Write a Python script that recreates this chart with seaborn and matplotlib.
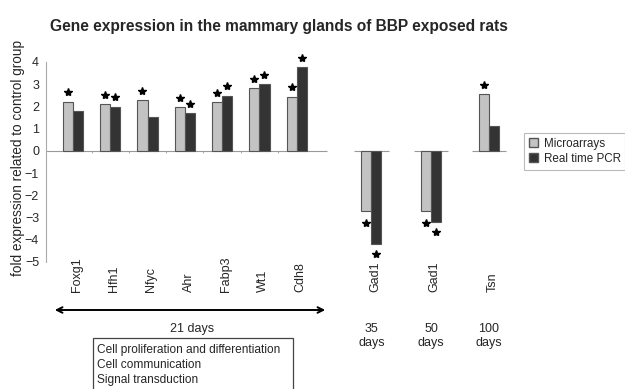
import numpy as np
import pandas as pd
import matplotlib
matplotlib.use("Agg")
import matplotlib.pyplot as plt
from matplotlib.patches import Rectangle, Patch
import seaborn as sns

# data
genes = ["Foxg1", "Hfh1", "Nfyc", "Ahr", "Fabp3", "Wt1", "Cdh8", "Gad1", "Gad1", "Tsn"]
microarrays = [2.21, 2.09, 2.28, 1.97, 2.18, 2.82, 2.44, -2.70, -2.70, 2.55]
real_time_pcr = [1.79, 1.99, 1.53, 1.71, 2.49, 3.00, 3.76, -4.20, -3.20, 1.10]
micro_sig = [1, 1, 1, 1, 1, 1, 1, 1, 1, 1]
pcr_sig = [0, 1, 0, 1, 1, 1, 1, 1, 1, 0]
periods = ["21 days", "35\ndays", "50\ndays", "100\ndays"]
functions = ["Cell proliferation and differentiation", "Cell communication", "Signal transduction"]

# layout: x position of each gene group
pos = [0, 1, 2, 3, 4, 5, 6, 8, 9.6, 11.15]

light = "#c3c3c3"
dark = "#333333"

sns.set_style("white")
plt.rcParams["font.family"] = ["Liberation Sans", "DejaVu Sans"]

df = pd.DataFrame({
    "pos": pos * 2,
    "value": microarrays + real_time_pcr,
    "method": ["Microarrays"] * len(genes) + ["Real time PCR"] * len(genes),
})

W, H = 625, 389
fig = plt.figure(figsize=(W / 100, H / 100), dpi=100)
ax = fig.add_axes([46 / W, 1 - 262 / H, (558 - 46) / W, (262 - 62) / H])

sns.barplot(data=df, x="pos", y="value", hue="method", native_scale=True,
            palette=[light, dark], width=0.54, edgecolor="#555555", linewidth=0.8,
            ax=ax, legend=False)

ax.set_xlim(-0.72, 13)
ax.set_ylim(-5, 4)
ax.set_yticks(range(-5, 5))
ax.tick_params(axis="y", labelsize=9, length=3, width=0.6, color="#999999", pad=2, direction="out")
ax.set_xticks([])
ax.set_xlabel("")
ax.set_ylabel("")
for s in ["top", "right", "bottom"]:
    ax.spines[s].set_visible(False)
ax.spines["left"].set_color("#aaaaaa")
ax.spines["left"].set_linewidth(0.8)

# zero lines per time point
ax.hlines(0, -0.72, 6.81, color="#999999", lw=0.8, zorder=0)
for p in pos[7:]:
    ax.hlines(0, p - 0.46, p + 0.46, color="#999999", lw=0.8, zorder=0)
for m in np.arange(0.5, 6, 1.0):
    ax.vlines(m, -0.1, 0, color="#999999", lw=0.6)

# significance stars
off = 0.27 / 2
for p, v, s in zip(pos, microarrays, micro_sig):
    if s:
        ax.plot(p - off, v + (0.42 if v > 0 else -0.55), marker="*", color="black",
                ms=6, ls="none", clip_on=False)
for p, v, s in zip(pos, real_time_pcr, pcr_sig):
    if s:
        ax.plot(p + off, v + (0.42 if v > 0 else -0.45), marker="*", color="black",
                ms=6, ls="none", clip_on=False)

# gene labels under the axis
trans = ax.get_xaxis_transform()
y_lab = (262 - 292) / 200
for p, g in zip(pos, genes):
    ax.text(p + 0.1, y_lab, g, rotation=90, ha="center", va="bottom", fontsize=9,
            transform=trans, clip_on=False)

# period annotations
ax.annotate("", xy=(52 / W, 1 - 310 / H), xytext=(328 / W, 1 - 310 / H),
            xycoords="figure fraction", textcoords="figure fraction",
            arrowprops=dict(arrowstyle="<->", color="black", lw=1.4))
fig.text(192 / W, 1 - 329 / H, periods[0], ha="center", va="center", fontsize=9)
for p, t in zip(pos[7:], periods[1:]):
    ax.text(p, (262 - 336) / 200, t, ha="center", va="center", fontsize=9,
            linespacing=1.3, transform=trans, clip_on=False)

# function box
fig.patches.append(Rectangle((93 / W, -0.05), 200 / W, (389 - 338) / H + 0.05,
                             transform=fig.transFigure, fill=False, edgecolor="#444444", lw=0.9))
for i, t in enumerate(functions):
    fig.text(97 / W, 1 - (350 + 15 * i) / H, t, ha="left", va="center", fontsize=8.6)

# title and y label
fig.text(50 / W, 1 - 26 / H, "Gene expression in the mammary glands of BBP exposed rats",
         ha="left", va="center", fontsize=11.2, fontweight="bold")
fig.text(18 / W, 1 - 158 / H, "fold expression related to control group",
         rotation=90, ha="center", va="center", fontsize=9.8)

handles = [Patch(facecolor=light, edgecolor="#555555", label="Microarrays"),
           Patch(facecolor=dark, edgecolor="#555555", label="Real time PCR")]
leg = fig.legend(handles=handles, loc="upper left", bbox_to_anchor=(518 / W, 1 - 127 / H),
                 fontsize=8.4, frameon=True, fancybox=False, borderpad=0.4,
                 handlelength=0.8, handleheight=0.8, handletextpad=0.5, labelspacing=0.3)
leg.get_frame().set_edgecolor("#aaaaaa")
leg.get_frame().set_linewidth(0.8)

fig.savefig("out.png", dpi=100)
